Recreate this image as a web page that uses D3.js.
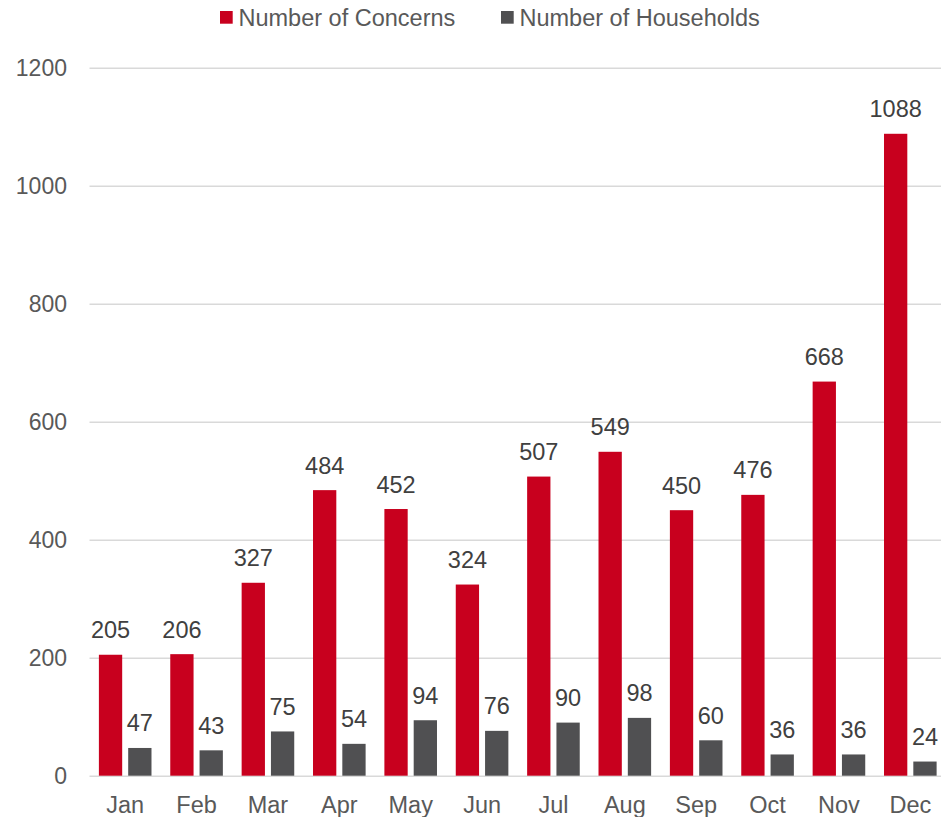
<!DOCTYPE html>
<html>
<head>
<meta charset="utf-8">
<script src="https://d3js.org/d3.v7.min.js"></script>
<style>
  body { margin: 0; background: #fff; }
  text { font-family: "Liberation Sans", Arial, sans-serif; fill: #595959; }
</style>
</head>
<body>
<svg width="941" height="817"></svg>
<script>
// chart data
var months = ['Jan', 'Feb', 'Mar', 'Apr', 'May', 'Jun', 'Jul', 'Aug', 'Sep', 'Oct', 'Nov', 'Dec'];
var concerns = [205, 206, 327, 484, 452, 324, 507, 549, 450, 476, 668, 1088];
var households = [47, 43, 75, 54, 94, 76, 90, 98, 60, 36, 36, 24];
var seriesNames = ['Number of Concerns', 'Number of Households'];
var yTicks = [0, 200, 400, 600, 800, 1000, 1200];

var colors = ['#c8001e', '#505052'];
var svg = d3.select('svg');

var plotLeft = 89.5, plotRight = 946, plotTop = 67.7, plotBottom = 775.7;

var x0 = d3.scaleBand().domain(months).range([plotLeft, plotRight])
  .paddingInner(0.263).paddingOuter(0.1315);
var x1 = d3.scaleBand().domain(seriesNames).range([0, x0.bandwidth()])
  .paddingInner(0.205);
var y = d3.scaleLinear().domain([0, 1200]).range([plotBottom, plotTop]);

// y axis + gridlines
var yAxis = svg.append('g')
  .attr('transform', 'translate(' + plotLeft + ',0)')
  .call(d3.axisLeft(y).tickValues(yTicks).tickFormat(d3.format('d'))
    .tickSize(-(plotRight - plotLeft)).tickPadding(22.5));
yAxis.select('.domain').remove();
yAxis.selectAll('line').attr('stroke', '#d9d9d9').attr('stroke-width', 1.5);
yAxis.selectAll('text').style('font-size', '23px').style('fill', '#595959');

// bars
var rows = months.map(function(m, i) {
  return { month: m, values: [concerns[i], households[i]] };
});

var groups = svg.append('g').selectAll('g')
  .data(rows).enter().append('g')
  .attr('transform', function(d) { return 'translate(' + x0(d.month) + ',0)'; });

groups.selectAll('rect')
  .data(function(d) { return d.values.map(function(v, j) { return { name: seriesNames[j], v: v, j: j }; }); })
  .enter().append('rect')
  .attr('x', function(d) { return x1(d.name); })
  .attr('width', x1.bandwidth())
  .attr('y', function(d) { return y(d.v); })
  .attr('height', function(d) { return plotBottom - y(d.v); })
  .attr('fill', function(d) { return colors[d.j]; });

groups.selectAll('text')
  .data(function(d) { return d.values.map(function(v, j) { return { name: seriesNames[j], v: v }; }); })
  .enter().append('text')
  .attr('x', function(d) { return x1(d.name) + x1.bandwidth() / 2; })
  .attr('y', function(d) { return y(d.v) - 16.5; })
  .attr('text-anchor', 'middle')
  .style('font-size', '23.5px')
  .style('fill', '#404040')
  .text(function(d) { return d.v; });

// x axis labels
var xAxis = svg.append('g')
  .attr('transform', 'translate(0,' + plotBottom + ')')
  .call(d3.axisBottom(x0).tickSize(0).tickPadding(20.6));
xAxis.select('.domain').remove();
xAxis.selectAll('text').style('font-size', '23.5px').style('fill', '#595959');

// legend
var legendX = [220, 501];
var legend = svg.append('g').selectAll('g')
  .data(seriesNames).enter().append('g')
  .attr('transform', function(d, i) { return 'translate(' + legendX[i] + ',0)'; });
legend.append('rect')
  .attr('x', 0).attr('y', 11)
  .attr('width', 12.7).attr('height', 12.7)
  .attr('fill', function(d, i) { return colors[i]; });
legend.append('text')
  .attr('x', 18.5).attr('y', 26)
  .style('font-size', '23.5px')
  .style('fill', '#595959')
  .text(function(d) { return d; });
</script>
</body>
</html>
